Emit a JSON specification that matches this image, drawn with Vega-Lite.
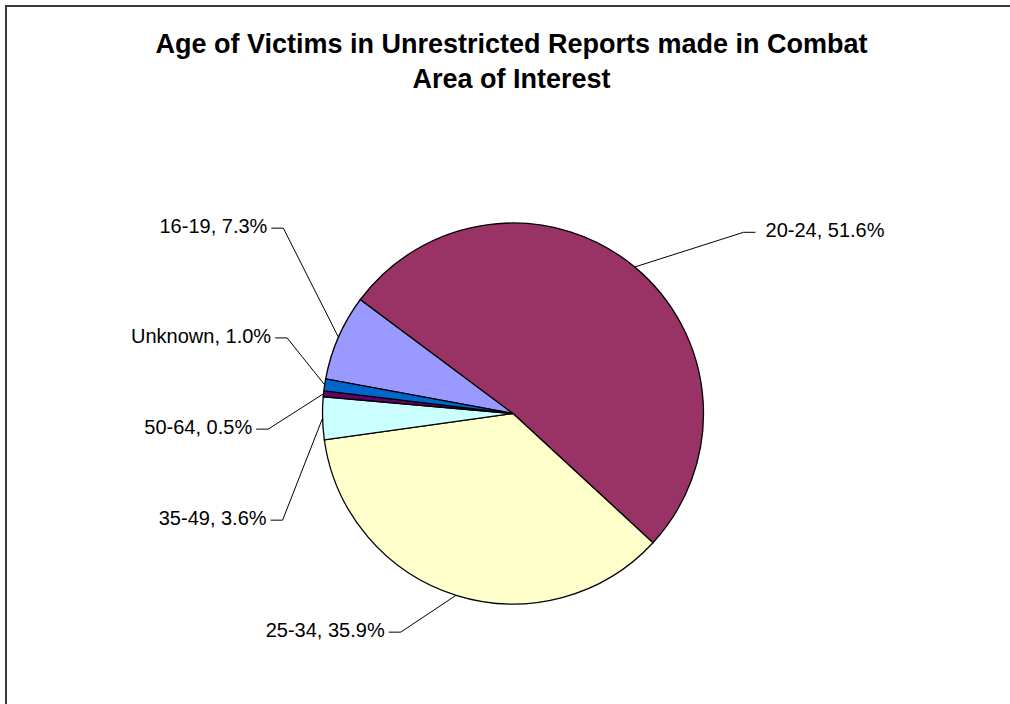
{
  "$schema": "https://vega.github.io/schema/vega-lite/v6.json",
  "width": 1004,
  "height": 698,
  "autosize": {"type": "none"},
  "padding": {"left": 6, "top": 6, "right": 0, "bottom": 0},
  "background": "#ffffff",
  "view": {"stroke": "#3a3a3a", "strokeWidth": 2, "fill": "#ffffff", "strokeDash": [1004, 1702, 698]},
  "title": {
    "text": ["Age of Victims in Unrestricted Reports made in Combat", "Area of Interest"],
    "font": "Liberation Sans",
    "fontSize": 27,
    "fontWeight": "bold",
    "color": "#000000",
    "anchor": "middle",
    "lineHeight": 35,
    "offset": -88,
    "dx": 3.5
  },
  "data": {
    "values": [
      {"age": "16-19", "pct": 7.3},
      {"age": "20-24", "pct": 51.6},
      {"age": "25-34", "pct": 35.9},
      {"age": "35-49", "pct": 3.6},
      {"age": "50-64", "pct": 0.5},
      {"age": "Unknown", "pct": 1.0}
    ]
  },
  "transform": [
    {"joinaggregate": [{"op": "sum", "field": "pct", "as": "total"}]},
    {"window": [{"op": "sum", "field": "pct", "as": "cum"}], "sort": [{"field": "age", "order": "ascending"}], "frame": [null, 0]},
    {"calculate": "4.8948 + 2 * PI * (datum.cum - datum.pct / 2) / datum.total", "as": "mid"},
    {"calculate": "indexof(['16-19','20-24','25-34','35-49','50-64','Unknown'], datum.age)", "as": "k"},
    {"calculate": "datum.mid + PI / 180 * [15.3, 12.1, 9.8, -23.4, -9.6, 9.85][datum.k]", "as": "la"},
    {"calculate": "[295.1, 293.2, 245.8, 253.9, 245.3, 238.2][datum.k]", "as": "lr"},
    {"calculate": "190.5 * sin(datum.mid)", "as": "ex"},
    {"calculate": "190.5 * cos(datum.mid)", "as": "ey"},
    {"calculate": "datum.lr * sin(datum.la)", "as": "kx"},
    {"calculate": "datum.lr * cos(datum.la)", "as": "ky"},
    {"calculate": "datum.kx + (datum.kx > 0 ? 12 : -12)", "as": "tx"},
    {"calculate": "datum.tx + (datum.kx > 0 ? 10 : -4)", "as": "lx"},
    {"calculate": "datum.age + ', ' + format(datum.pct, '.1f') + '%'", "as": "label"}
  ],
  "layer": [
    {
      "mark": {"type": "arc", "outerRadius": 190.5, "stroke": "#000000", "strokeWidth": 1.3},
      "encoding": {
        "x": {"datum": 0, "type": "quantitative", "axis": null, "scale": {"domain": [-507, 497], "nice": false, "zero": false}},
        "y": {"datum": 0, "type": "quantitative", "axis": null, "scale": {"domain": [-290.5, 407.5], "nice": false, "zero": false}},
        "theta": {"field": "pct", "type": "quantitative", "stack": true, "scale": {"range": [4.8948, 11.178]}},
        "order": {"field": "age", "type": "ordinal", "sort": "ascending"},
        "color": {
          "field": "age",
          "type": "nominal",
          "scale": {
            "domain": ["16-19", "20-24", "25-34", "35-49", "50-64", "Unknown"],
            "range": ["#9999FF", "#993366", "#FFFFCC", "#CCFFFF", "#660066", "#0066CC"]
          },
          "legend": null
        }
      }
    },
    {
      "mark": {"type": "rule", "stroke": "#000000", "strokeWidth": 1},
      "encoding": {
        "x": {"field": "ex", "type": "quantitative"},
        "y": {"field": "ey", "type": "quantitative"},
        "x2": {"field": "kx"},
        "y2": {"field": "ky"}
      }
    },
    {
      "mark": {"type": "rule", "stroke": "#000000", "strokeWidth": 1},
      "encoding": {
        "x": {"field": "kx", "type": "quantitative"},
        "y": {"field": "ky", "type": "quantitative"},
        "x2": {"field": "tx"}
      }
    },
    {
      "transform": [{"filter": "datum.kx > 0"}],
      "mark": {"type": "text", "align": "left", "baseline": "middle", "font": "Liberation Sans", "fontSize": 20, "color": "#000000", "dy": -1},
      "encoding": {
        "x": {"field": "lx", "type": "quantitative"},
        "y": {"field": "ky", "type": "quantitative"},
        "text": {"field": "label"}
      }
    },
    {
      "transform": [{"filter": "datum.kx <= 0"}],
      "mark": {"type": "text", "align": "right", "baseline": "middle", "font": "Liberation Sans", "fontSize": 20, "color": "#000000", "dy": -1},
      "encoding": {
        "x": {"field": "lx", "type": "quantitative"},
        "y": {"field": "ky", "type": "quantitative"},
        "text": {"field": "label"}
      }
    }
  ]
}
